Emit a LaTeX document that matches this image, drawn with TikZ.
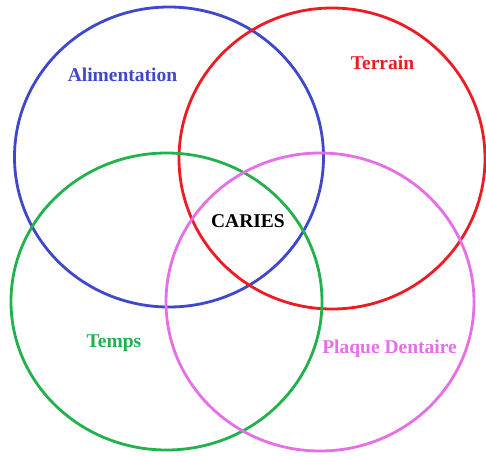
\documentclass[tikz,border=0pt]{standalone}
\usepackage{fontspec}
\setmainfont{Liberation Serif}
\definecolor{cblue}{RGB}{63,72,204}
\definecolor{cred}{RGB}{237,28,36}
\definecolor{cgreen}{RGB}{34,177,76}
\definecolor{cmag}{RGB}{230,110,230}
\begin{document}
\begin{tikzpicture}[x=1pt,y=-1pt,
  ring/.style={line width=2.8pt},
  lbl/.style={font=\fontsize{19.5}{22}\selectfont\bfseries, inner sep=0pt}]
\useasboundingbox[fill=white] (0,0) rectangle (486,455);
\draw[ring, cblue] (169,157) ellipse [x radius=154.5, y radius=150];
\draw[ring, cred] (332,158.5) ellipse [x radius=153, y radius=150.5];
\draw[ring, cgreen] (166.5,301.5) ellipse [x radius=155.5, y radius=148.5];
\draw[ring, cmag] (320,302) ellipse [x radius=154, y radius=149];
\node[lbl, text=cblue] (ali) at (122.5,75) {Alimentation};
\node[lbl, text=cred] (ter) at (382.5,63) {Terrain};
\node[lbl, text=cgreen] (tem) at (114,343) {Temps};
\node[lbl, text=cmag] (pla) at (389.5,349) {Plaque Dentaire};
\node[lbl, text=black] (car) at (248,221) {CARIES};
\end{tikzpicture}
\end{document}
